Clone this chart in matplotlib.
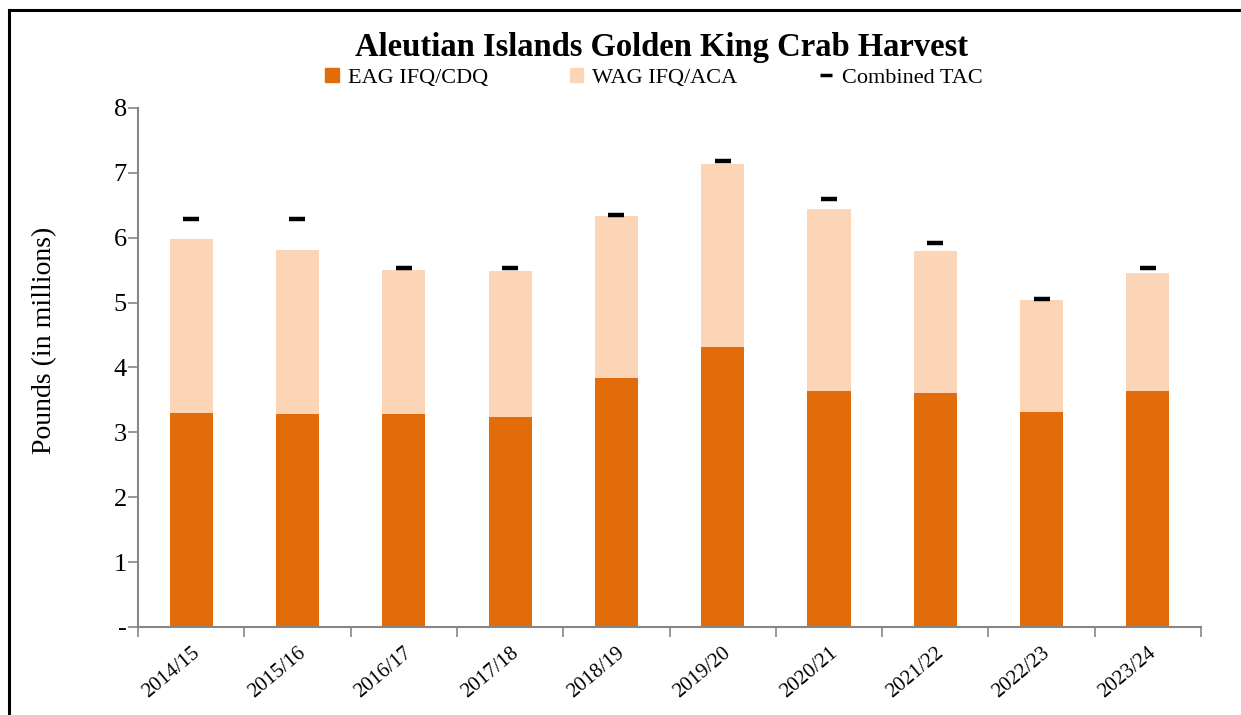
import matplotlib
matplotlib.use("Agg")
import matplotlib.pyplot as plt
from matplotlib.lines import Line2D
from matplotlib.patches import Patch
import numpy as np

seasons = ["2014/15", "2015/16", "2016/17", "2017/18", "2018/19",
           "2019/20", "2020/21", "2021/22", "2022/23", "2023/24"]
eag = [3.30, 3.29, 3.28, 3.24, 3.84, 4.31, 3.64, 3.61, 3.31, 3.64]
total = [5.98, 5.81, 5.51, 5.48, 6.34, 7.14, 6.44, 5.80, 5.04, 5.46]
tac = [6.29, 6.29, 5.54, 5.54, 6.35, 7.18, 6.60, 5.92, 5.05, 5.53]
wag = [t - e for t, e in zip(total, eag)]

EAG_COLOR = "#E36C0A"
WAG_COLOR = "#FBD5B5"
AXIS_GRAY = "#868686"

plt.rcParams["font.family"] = ["Liberation Serif", "DejaVu Serif"]

fig = plt.figure(figsize=(12.41, 7.15), dpi=100)
ax = fig.add_axes([0.1112, 0.1231, 0.8566, 0.7259])

x = np.arange(len(seasons))
w = 0.405
ax.bar(x, eag, w, color=EAG_COLOR, label="EAG IFQ/CDQ")
ax.bar(x, wag, w, bottom=eag, color=WAG_COLOR, label="WAG IFQ/ACA")
ax.plot(x, tac, ls="none", marker="_", ms=11, mew=3.2, color="black",
        label="Combined TAC")

ax.set_xlim(-0.5, len(seasons) - 0.5)
ax.set_ylim(0, 8)
ax.set_yticks(range(0, 9))
ax.set_yticklabels(["-"] + [str(i) for i in range(1, 9)], fontsize=19)
ax.set_xticks(x)
ax.set_xticklabels(seasons, rotation=40, ha="right", va="top",
                   rotation_mode="anchor", fontsize=15)
ax.set_xticks(np.arange(-0.5, len(seasons)), minor=True)
ax.tick_params(axis="x", which="major", length=0, pad=12)
ax.tick_params(axis="x", which="minor", length=7, color=AXIS_GRAY, width=1.2)
ax.tick_params(axis="y", length=7, color=AXIS_GRAY, width=1.2, pad=1)

for s in ["top", "right"]:
    ax.spines[s].set_visible(False)
for s in ["left", "bottom"]:
    ax.spines[s].set_color(AXIS_GRAY)
    ax.spines[s].set_linewidth(1.5)

ax.set_ylabel("Pounds (in millions)", fontsize=20)
ax.yaxis.set_label_coords(-0.076, 0.553)

fig.text(0.533, 0.933, "Aleutian Islands Golden King Crab Harvest",
         ha="center", va="center", fontsize=23.5, fontweight="bold")

handles = [
    Patch(color=EAG_COLOR),
    Patch(color=WAG_COLOR),
    Line2D([], [], ls="none", marker="_", ms=9, mew=2.5, color="black"),
]
fig.legend(handles, ["EAG IFQ/CDQ", "WAG IFQ/ACA", "Combined TAC"],
           loc="center", bbox_to_anchor=(0.527, 0.891), ncol=3, frameon=False,
           fontsize=16, handlelength=0.6, handleheight=0.6, handletextpad=0.4,
           columnspacing=3.7)

# frame lines on left and top of the figure
fig.add_artist(Line2D([9 / 1241, 9 / 1241], [0, 1 - 10 / 715], color="black", lw=2.2))
fig.add_artist(Line2D([9 / 1241, 1], [1 - 10 / 715, 1 - 10 / 715], color="black", lw=2.2))

fig.savefig("out.png", dpi=100)
